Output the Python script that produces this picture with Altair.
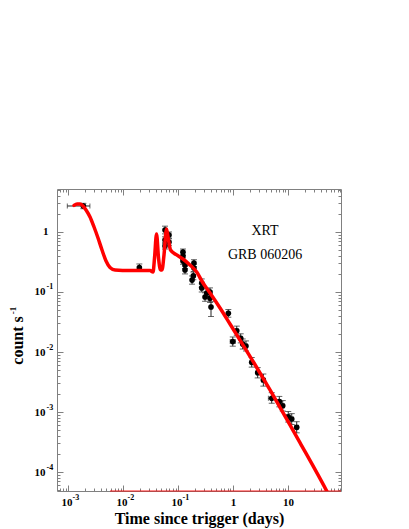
import altair as alt
import pandas as pd

W, H = 284, 302
SERIF = "Liberation Serif"
FRAME = "#808080"

# ---- plot ranges ----
XDOM = [6.3e-4, 92]
YDOM = [4.83e-5, 5.2]

# ---- observed XRT points (days, count/s) ----
obs_t = [0.0019, 0.0198, 0.058, 0.058, 0.058, 0.0686, 0.0686,
         0.123, 0.123, 0.123, 0.134, 0.134,
         0.195, 0.195, 0.19, 0.18,
         0.27, 0.27, 0.333, 0.382, 0.31, 0.382, 0.398,
         0.822, 0.99, 1.17, 1.38, 1.5, 1.72, 2.19, 2.81, 3.56,
         5.06, 6.95, 8.02, 10.1, 11.7, 14.4]
obs_t_lo = [9.7e-4, 0.0192, 0.0565, 0.0565, 0.0565, 0.067, 0.067,
            0.12, 0.12, 0.12, 0.131, 0.131,
            0.19, 0.19, 0.185, 0.175,
            0.26, 0.26, 0.32, 0.37, 0.30, 0.37, 0.385,
            0.79, 0.89, 1.10, 1.30, 1.42, 1.62, 2.05, 2.65, 3.30,
            4.4, 6.5, 7.5, 9.4, 10.9, 13.3]
obs_t_hi = [2.5e-3, 0.0204, 0.0595, 0.0595, 0.0595, 0.0702, 0.0702,
            0.126, 0.126, 0.126, 0.137, 0.137,
            0.20, 0.20, 0.195, 0.185,
            0.28, 0.28, 0.345, 0.395, 0.32, 0.395, 0.41,
            0.855, 1.10, 1.24, 1.46, 1.58, 1.82, 2.33, 2.97, 3.82,
            5.8, 7.4, 8.55, 10.8, 12.5, 15.5]
obs_c = [2.71, 0.254, 1.08, 0.735, 0.585, 0.89, 0.68,
         0.464, 0.398, 0.329, 0.282, 0.233,
         0.304, 0.251, 0.185, 0.158,
         0.141, 0.117, 0.0962, 0.1, 0.0825, 0.079, 0.0562,
         0.0441, 0.0149, 0.0226, 0.0169, 0.0136, 0.0126, 0.00673, 0.00452, 0.00342,
         0.00169, 0.00149, 0.00127, 0.000835, 0.000764, 0.000556]
obs_c_lo = [2.44, 0.226, 0.93, 0.65, 0.52, 0.79, 0.60,
            0.41, 0.35, 0.29, 0.245, 0.20,
            0.265, 0.22, 0.16, 0.135,
            0.12, 0.10, 0.082, 0.086, 0.070, 0.067, 0.039,
            0.038, 0.0125, 0.019, 0.0142, 0.0112, 0.0104, 0.0056, 0.0037, 0.0027,
            0.0014, 0.00122, 0.00104, 0.00068, 0.00062, 0.00045]
obs_c_hi = [3.0, 0.293, 1.25, 0.83, 0.66, 1.0, 0.77,
            0.52, 0.45, 0.37, 0.32, 0.27,
            0.345, 0.29, 0.215, 0.185,
            0.165, 0.137, 0.113, 0.117, 0.097, 0.093, 0.069,
            0.051, 0.0178, 0.027, 0.0201, 0.0165, 0.0153, 0.0081, 0.0055, 0.0043,
            0.0021, 0.00182, 0.00155, 0.00102, 0.00094, 0.00069]

# ---- model curve ----
curve_t = [1.285e-3, 1.459e-3, 1.652e-3, 1.875e-3, 2.125e-3, 2.512e-3, 2.97e-3,
           3.51e-3, 4.15e-3, 4.91e-3, 5.80e-3, 7.16e-3, 0.0134, 0.031, 0.0351,
           0.0374, 0.0407, 0.0442, 0.0481, 0.0512, 0.0556, 0.0618, 0.0672, 0.0731,
           0.0947, 0.1247, 0.165, 0.219, 0.285, 0.382, 0.581, 0.882, 1.34, 2.70,
           4.71, 9.47, 16.5, 50.6, 71.6]
curve_c = [2.77, 2.93, 2.93, 2.71, 2.33, 1.78, 1.21,
           0.794, 0.50, 0.329, 0.256, 0.233, 0.228, 0.228, 0.215,
           0.369, 0.926, 0.369, 0.233, 0.233, 0.414, 1.12, 0.735, 0.50,
           0.414, 0.351, 0.282, 0.215, 0.141, 0.0962, 0.0541, 0.0293, 0.0158, 0.00552,
           0.00233, 7.64e-4, 3.10e-4, 4.83e-5, 2.61e-5]

# faint model component lying on the lower edge
floor_t = [5.8e-3, 92]
floor_c = [4.83e-5, 4.83e-5]

# annotations
ann_t = [3.82, 3.82]
ann_c = [1.05, 0.406]
ann_text = ["XRT", "GRB 060206"]

obs = pd.DataFrame({"t": obs_t, "tlo": obs_t_lo, "thi": obs_t_hi,
                    "c": obs_c, "clo": obs_c_lo, "chi": obs_c_hi})
curve_df = pd.DataFrame({"t": curve_t, "c": curve_c})
floor_df = pd.DataFrame({"t": floor_t, "c": floor_c})
ann_df = pd.DataFrame({"t": ann_t, "c": ann_c, "label": ann_text})

xs = alt.Scale(type="log", domain=XDOM, nice=False)
ys = alt.Scale(type="log", domain=YDOM, nice=False)

EXP = "round(log(datum.value)/LN10)"
IS_MAJOR = f"abs(log(datum.value)/LN10 - {EXP}) < 0.001"
BASE_LABEL = f"{IS_MAJOR} ? ({EXP} == 0 ? '1' : '10') : ''"
EXP_LABEL = f"({IS_MAJOR} && {EXP} < 0) ? '-' + (-{EXP}) : ''"

common_lab = dict(grid=False, ticks=False, tickSize=0, domain=False, tickCount=20,
                  labelOverlap=False, labelFlush=False, labelFont=SERIF,
                  labelFontWeight="bold", labelColor="black")

x_main = alt.Axis(orient="bottom", title="Time since trigger (days)",
                  labelExpr=BASE_LABEL, labelFontSize=11,
                  labelBaseline="alphabetic", labelPadding=14,
                  labelOffset={"condition": {"test": "datum.value < 0.5", "value": -1.5}, "value": 0},
                  titleFont=SERIF, titleFontSize=16, titleFontWeight="bold",
                  titleColor="black", titleBaseline="alphabetic", titleY=32.5, titleX=W / 2,
                  **common_lab)
y_main = alt.Axis(orient="left", title="count s",
                  labelExpr=BASE_LABEL, labelFontSize=11,
                  labelPadding={"condition": {"test": "datum.value > 0.5", "value": 9}, "value": 12},
                  labelAlign="right", labelBaseline="middle",
                  titleFont=SERIF, titleFontSize=16, titleFontWeight="bold",
                  titleColor="black", titleAngle=270, titleBaseline="alphabetic",
                  titleAlign="center", titleX=-35, titleY=H / 2,
                  **common_lab)

# exponent (superscript) labels
x_exp = alt.Axis(orient="bottom", title=None, labelExpr=EXP_LABEL, labelFontSize=8,
                 labelAlign="left", labelBaseline="alphabetic", labelPadding=8,
                 labelOffset=4, **common_lab)
y_exp = alt.Axis(orient="left", title="-1", labelExpr=EXP_LABEL, labelFontSize=8,
                 labelAlign="left", labelBaseline="middle", labelPadding=11,
                 labelOffset=-5,
                 titleFont=SERIF, titleFontSize=9, titleFontWeight="bold",
                 titleColor="black", titleAngle=270, titleBaseline="alphabetic",
                 titleAlign="center", titleX=-42, titleY=121,
                 **common_lab)


def tick_axis(orient, offset):
    return alt.Axis(orient=orient, offset=offset, labels=False, domain=False, grid=False,
                    title=None, ticks=True, tickCount=20, tickColor=FRAME, tickWidth=1,
                    tickSize={"condition": {"test": IS_MAJOR, "value": 6}, "value": 3})


X = lambda ax: alt.X("t:Q", scale=xs, axis=ax)
Y = lambda ax: alt.Y("c:Q", scale=ys, axis=ax)

floor = alt.Chart(floor_df).mark_line(color="red", strokeWidth=1.5, opacity=0.6).encode(
    x=X(None), y=Y(None))

ticks_in_a = alt.Chart(curve_df).mark_line(opacity=0).encode(
    x=X(tick_axis("top", -H)), y=Y(tick_axis("right", -W)))
ticks_in_b = alt.Chart(curve_df).mark_line(opacity=0).encode(
    x=X(tick_axis("bottom", -H)), y=Y(tick_axis("left", -W)))
exp_labels = alt.Chart(curve_df).mark_line(opacity=0).encode(
    x=X(x_exp), y=Y(y_exp))

ebar_y = alt.Chart(obs).mark_rule(color="#222222", strokeWidth=1).encode(
    x=X(None), y=alt.Y("clo:Q", scale=ys, axis=None), y2="chi:Q")
ebar_x = alt.Chart(obs).mark_rule(color="#222222", strokeWidth=1).encode(
    x=alt.X("tlo:Q", scale=xs, axis=None), x2="thi:Q", y=Y(None))
cap_lo = alt.Chart(obs).mark_tick(orient="horizontal", size=6, thickness=1, color="#222222").encode(
    x=X(None), y=alt.Y("clo:Q", scale=ys, axis=None))
cap_hi = alt.Chart(obs).mark_tick(orient="horizontal", size=6, thickness=1, color="#222222").encode(
    x=X(None), y=alt.Y("chi:Q", scale=ys, axis=None))
cap_xl = alt.Chart(obs).mark_tick(orient="vertical", size=5, thickness=1, color="#222222").encode(
    x=alt.X("tlo:Q", scale=xs, axis=None), y=Y(None))
cap_xh = alt.Chart(obs).mark_tick(orient="vertical", size=5, thickness=1, color="#222222").encode(
    x=alt.X("thi:Q", scale=xs, axis=None), y=Y(None))
pts = alt.Chart(obs).mark_circle(size=32, color="black", opacity=1).encode(
    x=X(None), y=Y(None))

curve = alt.Chart(curve_df).mark_line(color="#ff0000", strokeWidth=3.5, interpolate="monotone",
                                      clip=True, strokeCap="round", strokeJoin="round").encode(
    x=X(x_main), y=Y(y_main))

ann = alt.Chart(ann_df).mark_text(font=SERIF, fontSize=14, color="black", baseline="middle",
                                  align="center").encode(
    x=X(None), y=Y(None), text="label:N")

chart = alt.layer(
    floor, ticks_in_a, ticks_in_b, exp_labels, ebar_y, ebar_x, cap_lo, cap_hi, cap_xl, cap_xh,
    pts, curve, ann
).resolve_axis(x="independent", y="independent").properties(
    width=W, height=H,
    padding={"left": 49, "top": 181, "right": 50, "bottom": 37},
    autosize=alt.AutoSizeParams(type="none"),
    background="white",
).configure_view(stroke=FRAME, strokeWidth=1)

chart.save("out.html", embed_options={"renderer": "svg", "actions": False})
